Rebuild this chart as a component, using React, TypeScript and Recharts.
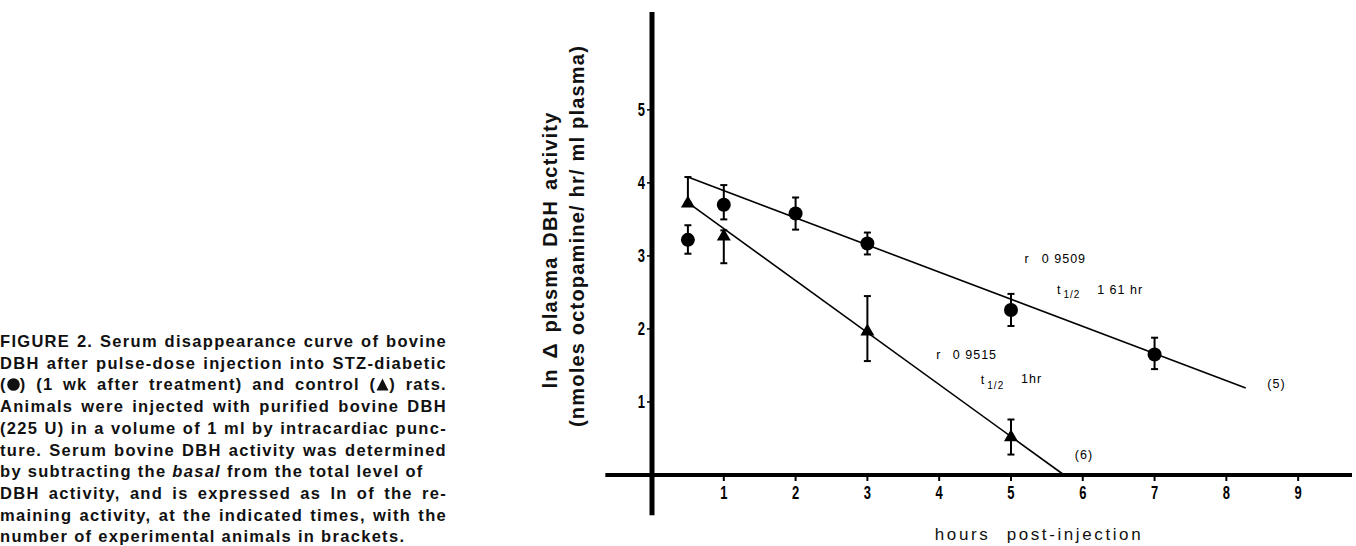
/* DBH serum disappearance — ln activity vs hours, two fitted lines */
import { ComposedChart, Scatter, Line, XAxis, YAxis, ReferenceLine, ErrorBar } from 'recharts';

// STZ-diabetic (circles)
const diabeticHours = [0.5, 1, 2, 3, 5, 7];
const diabeticMean = [3.22, 3.7, 3.58, 3.17, 2.26, 1.65];
const diabeticHigh = [3.42, 3.97, 3.8, 3.32, 2.48, 1.88];
const diabeticLow = [3.03, 3.5, 3.36, 3.02, 2.04, 1.45];

// control (triangles)
const controlHours = [0.5, 1, 3, 5];
const controlMean = [3.73, 3.28, 1.98, 0.53];
const controlHigh = [4.08, 3.35, 2.45, 0.76];
const controlLow = [3.73, 2.9, 1.56, 0.28];

// regression lines, end points
const diabeticFitX = [0.5, 8.27];
const diabeticFitY = [4.08, 1.19];
const controlFitX = [0.5, 5.74];
const controlFitY = [3.73, 0];

const xTicks = [1, 2, 3, 4, 5, 6, 7, 8, 9];
const yTicks = [1, 2, 3, 4, 5];

const noteX = [5.19, 5.43, 5.64, 6.2, 3.96, 4.19, 4.58, 5.14, 8.57, 5.89];
const noteY = [2.95, 2.95, 2.53, 2.52, 1.63, 1.63, 1.29, 1.3, 1.23, 0.27];
const noteText = ['r', '0 9509', 't', '1 61 hr', 'r', '0 9515', 't', '1hr', '(5)', '(6)'];
const noteSub = ['', '', '1/2', '', '', '', '1/2', '', '', ''];

const caption = [
  'FIGURE 2. Serum disappearance curve of bovine',
  'DBH after pulse-dose injection into STZ-diabetic',
  '(@) (1 wk after treatment) and control (^) rats.',
  'Animals were injected with purified bovine DBH',
  '(225 U) in a volume of 1 ml by intracardiac punc-',
  'ture. Serum bovine DBH activity was determined',
  'by subtracting the |basal| from the total level of',
  'DBH activity, and is expressed as ln of the re-',
  'maining activity, at the indicated times, with the',
  'number of experimental animals in brackets.',
];
const captionFull = [true, true, true, true, true, true, false, true, true, false];

const toPoints = (xs: number[], ys: number[], hi: number[], lo: number[]) =>
  xs.map((x, i) => ({ x, y: ys[i], err: [ys[i] - lo[i], hi[i] - ys[i]] }));

const diabeticData = toPoints(diabeticHours, diabeticMean, diabeticHigh, diabeticLow);
const controlData = toPoints(controlHours, controlMean, controlHigh, controlLow);
const diabeticFit = diabeticFitX.map((x, i) => ({ x, y: diabeticFitY[i] }));
const controlFit = controlFitX.map((x, i) => ({ x, y: controlFitY[i] }));
const notes = noteX.map((x, i) => ({ x, y: noteY[i], text: noteText[i], sub: noteSub[i] }));

const TEXT_FONT = "'Liberation Sans', Arial, sans-serif";

const Dot = (p: any) => <circle cx={p.cx} cy={p.cy} r={7} fill="#000" />;
const Tri = (p: any) => (
  <polygon points={`${p.cx},${p.cy - 7} ${p.cx - 7},${p.cy + 5} ${p.cx + 7},${p.cy + 5}`} fill="#000" />
);
const Note = (p: any) => (
  <text x={p.cx} y={p.cy} fontFamily={TEXT_FONT} fontSize={12.5} letterSpacing={1}
    dominantBaseline="middle" fill="#000">
    {p.payload.text}
    {p.payload.sub && <tspan dx={2} dy={5} fontSize={10}>{p.payload.sub}</tspan>}
  </text>
);

// bold, narrow digits like the print
const XTick = (p: any) => (
  <text transform={`translate(${p.x},${p.y}) scale(0.72,1)`} textAnchor="middle" dy="0.75em"
    fontFamily={TEXT_FONT} fontWeight={700} fontSize={18} fill="#000">{p.payload.value}</text>
);
const YTick = (p: any) => (
  <text transform={`translate(${p.x},${p.y}) scale(0.72,1)`} textAnchor="end" dy="0.36em"
    fontFamily={TEXT_FONT} fontWeight={700} fontSize={18} fill="#000">{p.payload.value}</text>
);

const Mark = ({ kind }: { kind: string }) => (
  <svg width={13} height={13} viewBox="0 0 13 13" style={{ verticalAlign: '-1px' }}>
    {kind === '@' ? <circle cx={6.5} cy={6.5} r={6.3} fill="#111" /> : <polygon points="6.5,0.5 0.5,12.5 12.5,12.5" fill="#111" />}
  </svg>
);

function CaptionLine({ text, full }: { text: string; full: boolean }) {
  const parts = text.split(/(\|[^|]*\||@|\^)/).filter(Boolean);
  return (
    <div style={{ textAlign: 'justify', textAlignLast: full ? 'justify' : 'left', whiteSpace: 'nowrap' }}>
      {parts.map((s, i) => {
        if (s === '@' || s === '^') return <Mark key={i} kind={s} />;
        if (s.startsWith('|')) return <i key={i}>{s.slice(1, -1)}</i>;
        return <span key={i}>{s}</span>;
      })}
    </div>
  );
}

export default function App() {
  return (
    <div style={{ position: 'absolute', left: 0, top: 0, width: 1356, height: 546, background: '#fff', overflow: 'hidden' }}>
      <div style={{
        position: 'absolute', left: 0, top: 331, width: 447,
        fontFamily: TEXT_FONT, fontWeight: 700, fontSize: 16.5, letterSpacing: 1.3, lineHeight: '21.7px', color: '#111',
      }}>
        {caption.map((t, i) => <CaptionLine key={i} text={t} full={captionFull[i]} />)}
      </div>

      <div style={{
        position: 'absolute', left: 550, top: 250, transform: 'translate(-50%, -50%) rotate(-90deg)',
        whiteSpace: 'nowrap', fontFamily: TEXT_FONT, fontWeight: 700, fontSize: 20, letterSpacing: 1.2, wordSpacing: 3, color: '#111',
      }}>ln <span style={{ fontSize: 21 }}>{'\u0394'}</span> plasma DBH activity</div>
      <div style={{
        position: 'absolute', left: 577, top: 236, transform: 'translate(-50%, -50%) rotate(-90deg)',
        whiteSpace: 'nowrap', fontFamily: TEXT_FONT, fontWeight: 700, fontSize: 20, letterSpacing: 1.2, color: '#111',
      }}>(nmoles octopamine/ hr/ ml plasma)</div>
      <div style={{
        position: 'absolute', left: 1039, top: 535, transform: 'translate(-50%, -50%)',
        whiteSpace: 'nowrap', fontFamily: TEXT_FONT, fontSize: 17, letterSpacing: 2.6, wordSpacing: 9, color: '#111',
      }}>hours post-injection</div>

      <div style={{ position: 'absolute', left: 0, top: 0 }}>
        <ComposedChart width={1356} height={546} margin={{ top: 12, right: 4, bottom: 41, left: 622 }}>
          <XAxis type="number" dataKey="x" domain={[0, 9.75]} ticks={xTicks} height={30}
            axisLine={false} tickSize={6} tickMargin={4} tickLine={{ stroke: '#000', strokeWidth: 2 }} tick={XTick} />
          <YAxis type="number" dataKey="y" domain={[0, 6.34]} ticks={yTicks} width={30}
            axisLine={false} tickSize={5} tickMargin={2} tickLine={{ stroke: '#000', strokeWidth: 1.5 }} tick={YTick} />
          <ReferenceLine segment={[{ x: -0.65, y: 0 }, { x: 9.75, y: 0 }]} stroke="#000" strokeWidth={4} ifOverflow="visible" />
          <ReferenceLine segment={[{ x: 0, y: -0.55 }, { x: 0, y: 6.34 }]} stroke="#000" strokeWidth={5} ifOverflow="visible" />
          <Line data={diabeticFit} dataKey="y" type="linear" stroke="#000" strokeWidth={1.6} dot={false} isAnimationActive={false} />
          <Line data={controlFit} dataKey="y" type="linear" stroke="#000" strokeWidth={1.6} dot={false} isAnimationActive={false} />
          <Scatter data={diabeticData} dataKey="y" shape={Dot} isAnimationActive={false}>
            <ErrorBar dataKey="err" direction="y" width={3.5} stroke="#000" strokeWidth={2} />
          </Scatter>
          <Scatter data={controlData} dataKey="y" shape={Tri} isAnimationActive={false}>
            <ErrorBar dataKey="err" direction="y" width={3.5} stroke="#000" strokeWidth={2} />
          </Scatter>
          <Scatter data={notes} dataKey="y" shape={Note} isAnimationActive={false} />
        </ComposedChart>
      </div>
    </div>
  );
}
